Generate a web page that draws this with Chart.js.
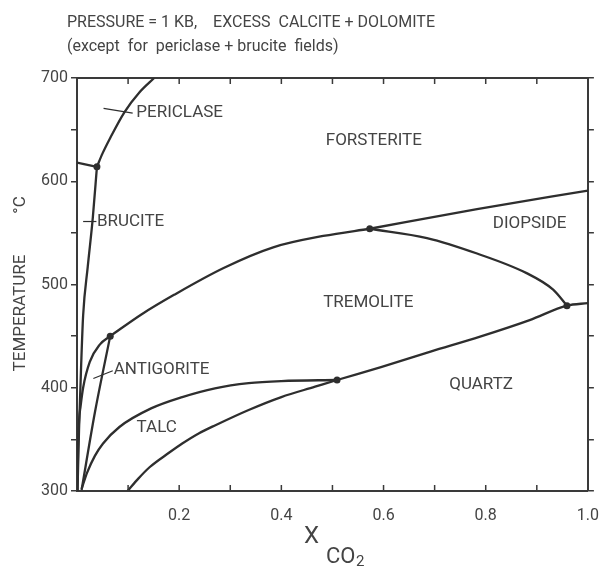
<!DOCTYPE html>
<html>
<head>
<meta charset="utf-8">
<script src="https://cdn.jsdelivr.net/npm/chart.js@4.4.1/dist/chart.umd.min.js"></script>
<style>
  body { margin: 0; background: #fff; }
  canvas { display: block; }
</style>
</head>
<body>
<canvas id="phase_chart" width="606" height="567"></canvas>
<script>
// phase boundaries, [X_CO2, T °C]
const periclaseBrucite = [[0, 618], [0.039, 614]];
const bruciteForsterite = [[0.001, 300], [0.004, 360], [0.008, 420], [0.012, 470], [0.021, 517], [0.031, 565], [0.039, 614]];
const periclaseForsterite = [[0.039, 614], [0.05, 627], [0.064, 641], [0.093, 667], [0.122, 686], [0.151, 700]];
const antigoriteUpper = [[0.001, 300], [0.002, 340], [0.004, 368], [0.007, 382], [0.012, 400], [0.025, 425], [0.045, 442], [0.065, 450]];
const antigoriteLower = [[0.009, 301], [0.035, 376], [0.065, 450]];
const forsteriteTremolite = [[0.065, 450], [0.126, 471], [0.19, 490], [0.287, 516], [0.384, 536], [0.482, 547], [0.573, 554]];
const forsteriteDiopside = [[0.573, 554], [0.783, 573], [1.0, 591]];
const diopsideTremolite = [[0.573, 554], [0.685, 545], [0.783, 530], [0.88, 511], [0.932, 495], [0.959, 479.5]];
const talcTremolite = [[0.009, 302], [0.02, 318], [0.035, 334], [0.051, 346], [0.083, 362], [0.145, 380], [0.206, 391], [0.27, 399.5], [0.336, 404.5], [0.4, 406.5], [0.509, 407.5]];
const quartzLine = [[0.099, 300], [0.12, 312], [0.142, 323], [0.18, 337], [0.206, 346], [0.239, 356], [0.272, 364], [0.336, 378.5], [0.4, 391], [0.466, 401], [0.509, 407.5], [0.595, 420], [0.692, 435], [0.789, 449.5], [0.886, 465.5], [0.959, 479.5], [1.0, 482]];
const invariantPoints = [[0.039, 614], [0.065, 450], [0.509, 407.5], [0.573, 554], [0.959, 479.5]];

// label leader ticks
const periclaseLeader = [[0.052, 670.5], [0.109, 666]];
const bruciteLeader = [[0.012, 561], [0.038, 561]];
const antigoriteLeader = [[0.032, 409], [0.07, 416.5]];

// field names: text, X_CO2, T, alignment
const fieldNames = [
    ["PERICLASE", 0.116, 666, "left"],
    ["FORSTERITE", 0.581, 639, "center"],
    ["BRUCITE", 0.039, 560.5, "left"],
    ["DIOPSIDE", 0.886, 558.5, "center"],
    ["TREMOLITE", 0.570, 482, "center"],
    ["ANTIGORITE", 0.072, 417, "left"],
    ["QUARTZ", 0.791, 402.5, "center"],
    ["TALC", 0.156, 361, "center"]
];

const xLabelValues = [0.2, 0.4, 0.6, 0.8, 1.0];
const yLabelValues = [300, 400, 500, 600, 700];

const lineColor = "#2e2e2e";
const axisColor = "#3a3a3a";
const textColor = "#444";
const fontFamily = "Roboto, 'DejaVu Sans', sans-serif";

const toPoints = (arr) => arr.map(p => ({ x: p[0], y: p[1] }));

const curve = (arr, width) => ({
    data: toPoints(arr),
    showLine: true,
    borderColor: lineColor,
    borderWidth: width || 2.3,
    pointRadius: 0,
    cubicInterpolationMode: "monotone",
    fill: false
});

const datasets = [
    curve(periclaseBrucite),
    curve(bruciteForsterite),
    curve(periclaseForsterite),
    curve(antigoriteUpper),
    curve(antigoriteLower),
    curve(forsteriteTremolite),
    curve(forsteriteDiopside),
    curve(diopsideTremolite),
    curve(talcTremolite),
    curve(quartzLine),
    curve(periclaseLeader, 1.2),
    curve(bruciteLeader, 1.2),
    curve(antigoriteLeader, 1.2),
    {
        data: toPoints(invariantPoints),
        showLine: false,
        pointRadius: 3.5,
        pointBackgroundColor: lineColor,
        pointBorderWidth: 0
    }
];

const decorations = {
    id: "decorations",
    afterDraw(chart) {
        const { ctx, chartArea: a } = chart;
        const x = chart.scales.x, y = chart.scales.y;
        ctx.save();

        // inward ticks on top and bottom frame
        ctx.strokeStyle = axisColor;
        ctx.lineWidth = 1.5;
        for (let i = 1; i < 10; i++) {
            const px = x.getPixelForValue(i / 10);
            ctx.beginPath();
            ctx.moveTo(px, a.bottom);
            ctx.lineTo(px, a.bottom - 6);
            ctx.moveTo(px, a.top);
            ctx.lineTo(px, a.top + 6);
            ctx.stroke();
        }

        // field names
        ctx.fillStyle = textColor;
        ctx.font = `17px ${fontFamily}`;
        ctx.textBaseline = "middle";
        fieldNames.forEach(([text, xv, yv, align]) => {
            ctx.textAlign = align;
            ctx.fillText(text, x.getPixelForValue(xv), y.getPixelForValue(yv));
        });

        // heading
        ctx.textAlign = "left";
        ctx.font = `16px ${fontFamily}`;
        ctx.fillText("PRESSURE = 1 KB,    EXCESS  CALCITE + DOLOMITE", 67, 23);
        ctx.fillText("(except  for  periclase + brucite  fields)", 67, 47);

        // y title
        ctx.save();
        ctx.translate(21, 0);
        ctx.rotate(-Math.PI / 2);
        ctx.textAlign = "center";
        ctx.font = `17px ${fontFamily}`;
        ctx.fillText("TEMPERATURE", -313, 0);
        ctx.fillText("°C", -205, 0);
        ctx.restore();

        // x title
        ctx.textBaseline = "alphabetic";
        ctx.font = `24px ${fontFamily}`;
        ctx.fillText("X", 304, 543);
        ctx.font = `22px ${fontFamily}`;
        ctx.fillText("CO", 326, 563);
        ctx.font = `15px ${fontFamily}`;
        ctx.fillText("2", 356, 566);

        ctx.restore();
    }
};

const ctx = document.getElementById("phase_chart");
const chart = new Chart(ctx, {
    type: "scatter",
    data: { datasets: datasets },
    options: {
        responsive: false,
        animation: false,
        layout: { padding: { top: 78, left: 0, right: 0, bottom: 0 } },
        plugins: { legend: { display: false }, tooltip: { enabled: false } },
        scales: {
            x: {
                type: "linear", min: 0, max: 1,
                afterFit: (s) => { s.height = 76; },
                grid: { display: false },
                border: { display: true, color: axisColor, width: 2 },
                ticks: {
                    stepSize: 0.1, autoSkip: false, maxRotation: 0, padding: 7,
                    color: textColor, font: { family: fontFamily, size: 16 },
                    callback: (v) => {
                        const hit = xLabelValues.find(t => Math.abs(t - v) < 1e-6);
                        return hit !== undefined ? hit.toFixed(1) : "";
                    }
                }
            },
            x2: {
                type: "linear", position: "top", min: 0, max: 1,
                afterFit: (s) => { s.height = 0; },
                grid: { display: false },
                border: { display: true, color: axisColor, width: 2 },
                ticks: { display: false }
            },
            y: {
                type: "linear", min: 300, max: 700,
                afterFit: (s) => { s.width = 77; },
                grid: { drawOnChartArea: false, tickLength: 6, color: axisColor, lineWidth: 1.5 },
                border: { display: true, color: axisColor, width: 2 },
                ticks: {
                    stepSize: 50, padding: 3, color: textColor,
                    font: { family: fontFamily, size: 16 },
                    callback: (v) => yLabelValues.includes(v) ? String(v) : ""
                }
            },
            y2: {
                type: "linear", position: "right", min: 300, max: 700,
                afterFit: (s) => { s.width = 14; },
                grid: { drawOnChartArea: false, tickLength: 6, color: axisColor, lineWidth: 1.5 },
                border: { display: true, color: axisColor, width: 2 },
                ticks: { display: false, stepSize: 50 }
            }
        }
    },
    plugins: [decorations]
});
</script>
</body>
</html>
